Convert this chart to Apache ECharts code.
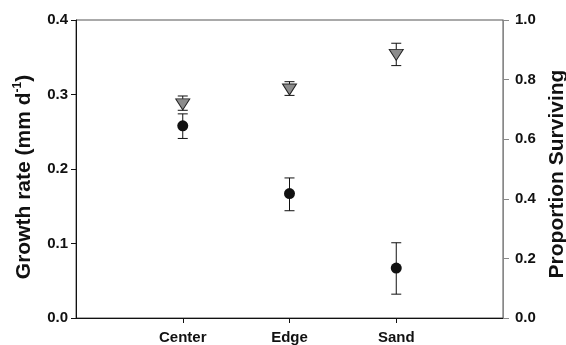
<!DOCTYPE html>
<html>
<head>
<meta charset="utf-8">
<script src="https://cdn.jsdelivr.net/npm/echarts@6/dist/echarts.min.js"></script>
<style>
  html, body { margin: 0; padding: 0; background: #fff; }
  #chart { width: 566px; height: 345px; }
</style>
</head>
<body>
<div id="chart"></div>
<script>
var categories = ['', 'Center', 'Edge', 'Sand', ''];
var growthMean = [null, 0.258, 0.167, 0.067, null];
var growthLow = [null, 0.241, 0.144, 0.032, null];
var growthHigh = [null, 0.274, 0.188, 0.101, null];
var survMean = [null, 0.717, 0.767, 0.883, null];
var survLow = [null, 0.697, 0.747, 0.847, null];
var survHigh = [null, 0.745, 0.793, 0.922, null];
var leftTicks = [0.0, 0.1, 0.2, 0.3, 0.4];
var rightTicks = [0.0, 0.2, 0.4, 0.6, 0.8, 1.0];

function errData(low, high) {
    var out = [];
    for (var i = 0; i < categories.length; i++) {
        if (low[i] != null) out.push([i, low[i], high[i]]);
    }
    return out;
}

function renderErr(params, api) {
    var x = api.value(0);
    var lo = api.coord([x, api.value(1)]);
    var hi = api.coord([x, api.value(2)]);
    var w = 5;
    var style = { stroke: '#111', lineWidth: 1 };
    return {
        type: 'group',
        children: [
            { type: 'line', shape: { x1: lo[0], y1: lo[1], x2: hi[0], y2: hi[1] }, style: style },
            { type: 'line', shape: { x1: lo[0] - w, y1: lo[1], x2: lo[0] + w, y2: lo[1] }, style: style },
            { type: 'line', shape: { x1: hi[0] - w, y1: hi[1], x2: hi[0] + w, y2: hi[1] }, style: style }
        ]
    };
}

var myChart = echarts.init(document.getElementById('chart'));
var font = 'Liberation Sans, Arial, sans-serif';
var option = {
    animation: false,
    grid: {
        left: 76, right: 63, top: 20, bottom: 27,
        outerBoundsMode: 'none', containLabel: false,
        show: true, borderColor: '#555', borderWidth: 1
    },
    xAxis: {
        type: 'category',
        data: categories,
        boundaryGap: false,
        axisLine: { lineStyle: { color: '#111' } },
        axisTick: {
            length: 5,
            interval: function (i, v) { return v !== ''; },
            lineStyle: { color: '#111' }
        },
        axisLabel: {
            interval: 0, margin: 12,
            color: '#111', fontWeight: 'bold', fontSize: 15, fontFamily: font
        },
        splitLine: { show: false }
    },
    yAxis: [
        {
            type: 'value', min: 0, max: 0.4, interval: 0.1,
            name: 'Growth rate (mm d{sup|-1})',
            nameLocation: 'middle', nameGap: 40,
            nameTextStyle: {
                color: '#111', fontWeight: 'bold', fontSize: 21, fontFamily: font,
                padding: [0, 16, 0, 0],
                rich: { sup: { fontSize: 12, fontWeight: 'bold', fontFamily: font, color: '#111', verticalAlign: 'top', padding: [0, 0, 12, 0] } }
            },
            axisLine: { show: true, lineStyle: { color: '#111' } },
            axisTick: { show: true, length: 5, lineStyle: { color: '#111' } },
            axisLabel: {
                margin: 8, color: '#111', fontWeight: 'bold', fontSize: 15, fontFamily: font,
                formatter: function (v) { return leftTicks.indexOf(Math.round(v * 10) / 10) >= 0 ? v.toFixed(1) : ''; }
            },
            splitLine: { show: false }
        },
        {
            type: 'value', min: 0, max: 1, interval: 0.2,
            name: 'Proportion Surviving',
            nameLocation: 'middle', nameGap: 42, nameRotate: 90,
            nameTextStyle: {
                color: '#111', fontWeight: 'bold', fontSize: 21, fontFamily: font,
                padding: [0, 10, 0, 0]
            },
            axisLine: { show: true, lineStyle: { color: '#888' } },
            axisTick: { show: true, length: 6, lineStyle: { color: '#888' } },
            axisLabel: {
                margin: 12, color: '#111', fontWeight: 'bold', fontSize: 15, fontFamily: font,
                formatter: function (v) { return rightTicks.indexOf(Math.round(v * 10) / 10) >= 0 ? v.toFixed(1) : ''; }
            },
            splitLine: { show: false }
        }
    ],
    series: [
        {
            type: 'custom', yAxisIndex: 0,
            renderItem: renderErr,
            data: errData(growthLow, growthHigh),
            z: 2
        },
        {
            type: 'custom', yAxisIndex: 1,
            renderItem: renderErr,
            data: errData(survLow, survHigh),
            z: 2
        },
        {
            name: 'Growth rate', type: 'scatter', yAxisIndex: 0,
            symbol: 'circle', symbolSize: 11,
            itemStyle: { color: '#111', opacity: 1 },
            data: growthMean,
            z: 3
        },
        {
            name: 'Proportion Surviving', type: 'scatter', yAxisIndex: 1,
            symbol: 'triangle', symbolSize: [14, 11], symbolRotate: 180,
            itemStyle: { color: '#8c8c8c', borderColor: '#222', borderWidth: 1, opacity: 1 },
            data: survMean,
            z: 3
        }
    ]
};
myChart.setOption(option);
</script>
</body>
</html>
